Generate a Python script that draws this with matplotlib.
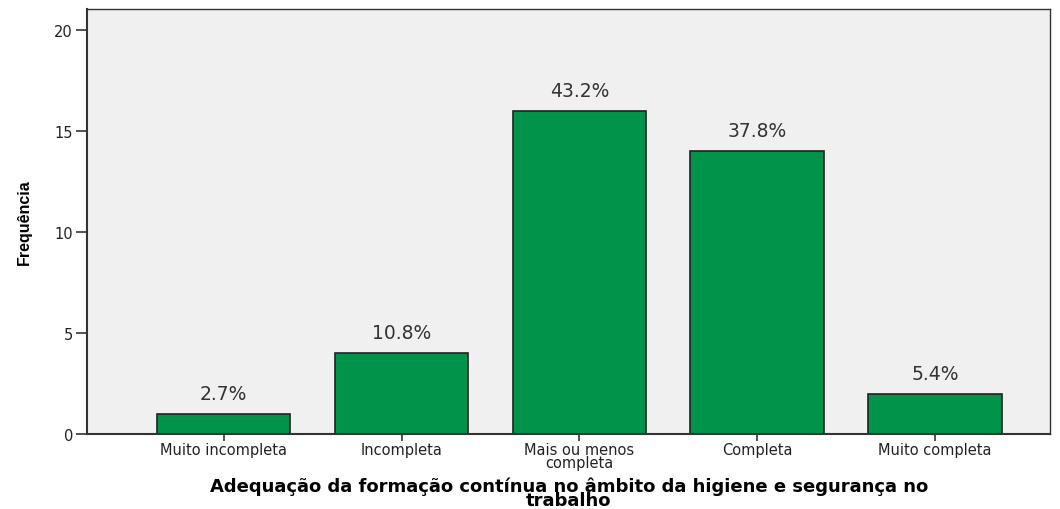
import matplotlib
matplotlib.use('Agg')
import matplotlib.pyplot as plt

# Data
categories = ['Muito incompleta', 'Incompleta', 'Mais ou menos\ncompleta', 'Completa', 'Muito completa']
counts = [1, 4, 16, 14, 2]
percent_labels = ['2.7%', '10.8%', '43.2%', '37.8%', '5.4%']
y_ticks = [0, 5, 10, 15, 20]

plt.rcParams['font.family'] = ['DejaVu Sans']

fig = plt.figure(figsize=(10.6, 5.1), dpi=100)
ax = fig.add_axes([0.082, 0.147, 0.909, 0.833])
ax.set_facecolor('#f0f0f0')

x = range(len(categories))
ax.bar(x, counts, width=0.75, color='#00934a', edgecolor='#222222', linewidth=1.2, zorder=2)

for xi, c, lab in zip(x, counts, percent_labels):
    ax.text(xi, c + 0.55, lab, ha='center', va='bottom', fontsize=13.5, color='#333333')

ax.set_xlim(-0.77, 4.65)
ax.set_ylim(0, 21.05)
ax.set_yticks(y_ticks)
ax.set_yticklabels([str(t) for t in y_ticks], fontsize=10.5, color='#222222')
ax.set_xticks(list(x))
ax.set_xticklabels(categories, fontsize=10.5, linespacing=0.8, color='#222222')
ax.tick_params(axis='y', direction='out', length=8, width=1.2, color='#333333', pad=2)
ax.tick_params(axis='x', direction='out', length=5, width=1.2, color='#333333', pad=1)

for side in ['left', 'bottom']:
    ax.spines[side].set_linewidth(1.5)
    ax.spines[side].set_color('#333333')
for side in ['top', 'right']:
    ax.spines[side].set_linewidth(1.0)
    ax.spines[side].set_color('#333333')

ax.set_ylabel('Frequência', fontsize=11.5, fontweight='bold', family='Liberation Sans', labelpad=16)
ax.set_xlabel('Adequação da formação contínua no âmbito da higiene e segurança no\ntrabalho',
              fontsize=13, fontweight='bold', family='DejaVu Sans', linespacing=0.7, labelpad=4.5)

fig.savefig('out.png', dpi=100)
